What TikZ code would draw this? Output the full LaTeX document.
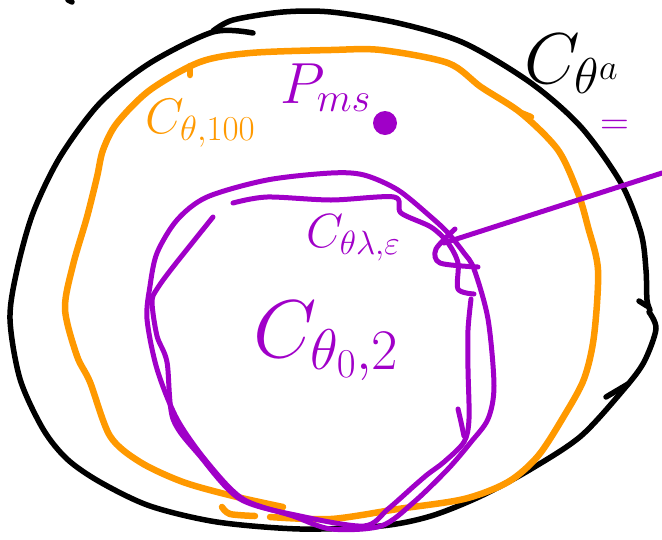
\RequirePackage{fix-cm}
\documentclass[tikz,border=0pt]{standalone}
\usepackage{amsmath,amssymb}
\usepackage{tikz}
\usetikzlibrary{positioning,calc}
\definecolor{PenOrange}{RGB}{255,153,0}
\definecolor{PenPurple}{RGB}{160,0,200}
\tikzset{
	blackpen/.style={draw=black,line width=5.5pt,line cap=round,line join=round},
	orangepen/.style={draw=PenOrange,line width=6.5pt,line cap=round,line join=round},
	purplepen/.style={draw=PenPurple,line width=5pt,line cap=round,line join=round},
	lbl/.style={inner sep=0pt,anchor=base west},
}

\begin{document}
\begin{tikzpicture}[x=1pt,y=-1pt]
			\useasboundingbox (0,0) rectangle (662,539);
			% outer black region
			\draw[blackpen] (68,0) -- (72,2);
			\draw[blackpen] plot[smooth] coordinates {(253,33) (213,32) (150,63) (100,103) (60,157) (33,213) (17,270) (10,319) (20,379) (43,429) (67,459) (100,482) (150,506) (217,522) (300,529) (381,526) (431,516) (481,496) (531,469) (581,436) (624,389) (644,362) (656,329) (649,312)};
			\draw[blackpen] plot[smooth] coordinates {(213,31) (233,20) (283,12) (331,12) (398,23) (464,43) (531,83) (581,127) (621,183) (641,233) (646,270) (647,300) (650,310)};
			\draw[blackpen] (639,301) -- (647,306);
			\draw[blackpen] (606,397) -- (628,384);
			% orange region
			\draw[orangepen] plot[smooth] coordinates {(222,507) (230,514) (255,516)};
			\draw[orangepen] plot[smooth] coordinates {(270,517) (331,519) (398,509) (464,499) (508,482) (538,456) (564,416) (584,379) (594,336) (598,270) (588,227) (578,193) (558,150) (521,113) (481,87) (448,63) (381,50) (331,50) (250,53) (200,62) (150,90) (117,123) (103,150) (97,177) (87,217) (73,265) (65,309) (77,356) (90,382) (110,436) (140,462) (183,482) (233,496) (283,507)};
			\draw[orangepen] (190,66) -- (190,75);
			\draw[orangepen] (521,113) -- (531,117);
			% purple regions
			\draw[purplepen] plot[smooth cycle] coordinates {(331,173) (364,175) (398,190) (431,217) (448,233) (464,253) (474,269) (488,319) (494,386) (488,419) (471,442) (448,469) (414,502) (381,526) (331,529) (293,516) (243,499) (207,462) (177,419) (157,369) (147,319) (150,286) (157,253) (177,220) (207,197) (267,180)};
			\draw[purplepen] plot[smooth] coordinates {(233,203) (267,197) (331,200) (394,197) (401,213) (431,227) (448,243) (458,263) (458,289) (474,294)};
			\draw[purplepen] plot[smooth] coordinates {(471,299) (468,330) (468,369) (469,419) (464,442) (444,462) (428,474) (414,486) (388,509) (364,526) (300,516) (240,499) (200,456) (173,419) (167,362) (157,336) (152,302) (157,289) (173,267) (213,217)};
			\draw[purplepen] plot[smooth] coordinates {(458,409) (461,422) (464,436)};
			\draw[purplepen] plot[smooth] coordinates {(455,229) (436,249) (440,263) (478,267)};
			\coordinate (knot) at (444,243);
			\coordinate (tail) at (662,173);
			\draw[purplepen] (knot) -- (tail);
			\fill[PenPurple] (385,123) circle (12);
			% labels
			\node[lbl,font=\fontsize{72}{72}\selectfont] (Ca) at (524,83) {$C_{\theta^a}$};
			\node[lbl,text=PenPurple,font=\fontsize{40}{40}\selectfont] (eq) at (600,134) {$=$};
			\node[lbl,text=PenOrange,font=\fontsize{50}{50}\selectfont] (C100) at (145,133) {$C_{\theta,100}$};
			\node[lbl,text=PenPurple,font=\fontsize{58}{58}\selectfont] (Pms) at (280,103) {$P_{ms}$};
			\node[lbl,text=PenPurple,font=\fontsize{48}{48}\selectfont] (Ceps) at (306,247) {$C_{\theta\lambda,\varepsilon}$};
			\node[lbl,text=PenPurple,font=\fontsize{82}{82}\selectfont] (C2) at (253,357) {$C_{\theta_0,2}$};
		\end{tikzpicture}
\end{document}
